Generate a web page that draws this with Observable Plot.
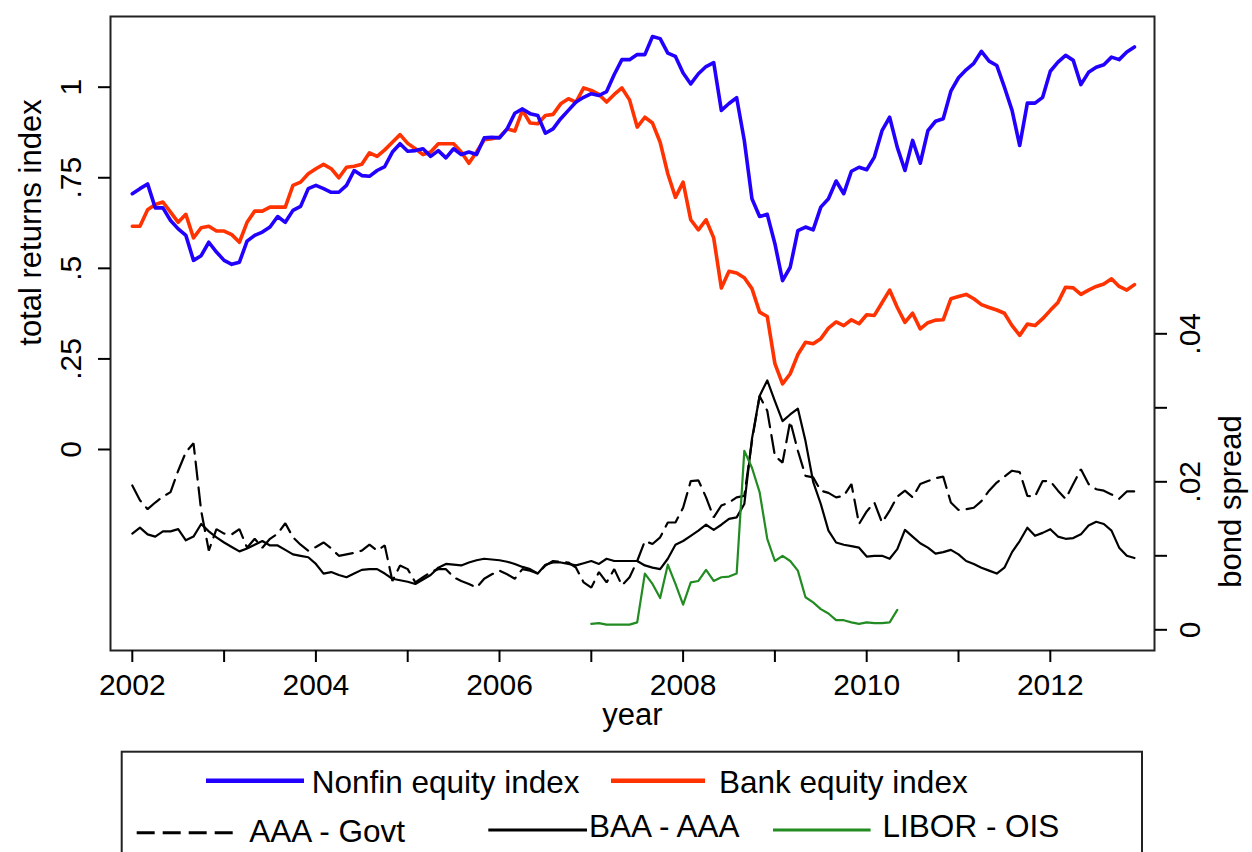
<!DOCTYPE html>
<html><head><meta charset="utf-8">
<script src="https://cdn.jsdelivr.net/npm/d3@7"></script>
<script src="https://cdn.jsdelivr.net/npm/@observablehq/plot@0.6"></script>
<style>
html,body{margin:0;padding:0;background:#fff;overflow:hidden;width:1252px;height:852px;}
#chart svg,#legend svg{display:block}
</style></head><body>
<div id="chart"></div>
<div id="legend"></div>
<script>
// ---- data (monthly, Jan 2002 .. Dec 2012) ----
const startYear = 2002;
const nonfin = [
 .706,.720,.733,.667,.667,.632,.609,.591,.522,.535,.572,.545,
 .522,.511,.517,.575,.591,.600,.614,.643,.627,.660,.671,.720,
 .729,.720,.710,.710,.729,.770,.756,.754,.770,.781,.821,.844,
 .823,.825,.830,.809,.825,.805,.830,.814,.821,.814,.860,.862,
 .860,.885,.928,.940,.927,.922,.873,.885,.913,.936,.959,.972,
 .982,.977,.988,1.035,1.076,1.076,1.090,1.090,1.140,1.134,1.094,1.085,
 1.039,1.009,1.037,1.057,1.068,.936,.955,.971,.853,.692,.643,.649,
 .568,.466,.503,.604,.614,.606,.669,.692,.741,.706,.768,.779,
 .772,.807,.880,.917,.834,.770,.853,.790,.880,.906,.913,.989,
 1.026,1.048,1.066,1.099,1.072,1.060,1.000,.936,.839,.956,.956,.972,
 1.044,1.069,1.088,1.074,1.007,1.041,1.055,1.062,1.083,1.076,1.097,1.111];
const bank = [
 .616,.616,.662,.676,.683,.655,.627,.649,.584,.612,.616,.603,
 .603,.593,.572,.627,.658,.658,.669,.669,.669,.729,.738,.761,
 .775,.787,.775,.750,.779,.782,.787,.819,.809,.827,.848,.869,
 .845,.830,.814,.821,.844,.844,.844,.821,.790,.821,.855,.858,
 .862,.885,.879,.936,.901,.899,.922,.925,.954,.968,.959,.998,
 .991,.980,.959,.980,.998,.965,.890,.917,.901,.848,.761,.696,
 .738,.634,.606,.634,.584,.446,.492,.487,.474,.444,.379,.367,
 .237,.181,.209,.262,.296,.292,.306,.335,.352,.342,.358,.347,
 .372,.370,.405,.440,.392,.351,.376,.333,.350,.357,.358,.416,
 .422,.428,.416,.400,.392,.385,.376,.342,.315,.346,.342,.361,
 .384,.406,.448,.446,.428,.440,.450,.457,.471,.450,.440,.455];
const aaaGovt = [
 .0195,.0175,.0163,.0172,.0180,.0186,.0215,.0240,.0252,.0161,.0107,.0136,
 .0130,.0129,.0136,.0111,.0123,.0111,.0123,.0130,.0144,.0125,.0115,.0107,
 .0112,.0118,.0110,.0100,.0102,.0104,.0107,.0115,.0107,.0114,.0066,.0087,
 .0082,.0064,.0071,.0078,.0082,.0082,.0071,.0066,.0062,.0057,.0069,.0075,
 .0080,.0075,.0069,.0082,.0080,.0076,.0087,.0093,.0092,.0091,.0084,.0064,
 .0057,.0078,.0064,.0082,.0060,.0071,.0093,.0120,.0116,.0125,.0145,.0145,
 .0165,.0201,.0202,.0179,.0152,.0168,.0172,.0179,.0181,.0255,.0316,.0296,
 .0235,.0226,.0282,.0242,.0208,.0206,.0188,.0185,.0179,.0181,.0197,.0143,
 .0160,.0172,.0145,.0161,.0180,.0188,.0179,.0197,.0201,.0205,.0207,.0172,
 .0162,.0163,.0165,.0174,.0188,.0199,.0207,.0215,.0213,.0181,.0180,.0201,
 .0201,.0188,.0177,.0197,.0217,.0197,.0190,.0188,.0183,.0177,.0187,.0187];
const baaAaa = [
 .0130,.0138,.0129,.0126,.0133,.0133,.0136,.0121,.0126,.0143,.0133,.0125,
 .0118,.0112,.0106,.0110,.0115,.0120,.0114,.0114,.0108,.0102,.0100,.0098,
 .0089,.0076,.0078,.0074,.0071,.0076,.0081,.0082,.0082,.0076,.0069,.0067,
 .0065,.0062,.0068,.0074,.0084,.0089,.0088,.0087,.0091,.0094,.0096,.0095,
 .0094,.0092,.0089,.0085,.0082,.0076,.0088,.0091,.0091,.0089,.0087,.0090,
 .0093,.0089,.0096,.0093,.0093,.0093,.0093,.0087,.0084,.0082,.0096,.0115,
 .0120,.0127,.0134,.0142,.0135,.0142,.0150,.0152,.0170,.0258,.0316,.0337,
 .0309,.0282,.0291,.0299,.0255,.0200,.0170,.0134,.0118,.0115,.0113,.0111,
 .0099,.0100,.0100,.0096,.0109,.0135,.0126,.0117,.0111,.0103,.0105,.0108,
 .0102,.0093,.0089,.0084,.0080,.0076,.0084,.0105,.0120,.0138,.0127,.0131,
 .0136,.0126,.0123,.0124,.0129,.0141,.0146,.0143,.0134,.0111,.0100,.0097];
const liborStartMonth = 60; // Jan 2007
const liborOis = [
 .0008,.0009,.0007,.0007,.0007,.0007,.0010,.0076,.0062,.0043,.0088,.0062,
 .0034,.0064,.0066,.0081,.0066,.0071,.0072,.0076,.0242,.0219,.0186,.0123,
 .0093,.0100,.0093,.0080,.0044,.0037,.0028,.0022,.0013,.0013,.0010,.0008,
 .0010,.0009,.0009,.0010,.0027];

const yearTicks = [2002,2003,2004,2005,2006,2007,2008,2009,2010,2011,2012];
const leftTicks = [0, .25, .5, .75, 1];
const leftTickLabels = ["0", ".25", ".5", ".75", "1"];
const rightTicks = [0, .01, .02, .03, .04];
const rightTickLabels = ["0", "", ".02", "", ".04"];
const legendLabels = ["Nonfin equity index", "Bank equity index", "AAA - Govt", "BAA - AAA", "LIBOR - OIS"];
const colors = {nonfin: "#2200ff", bank: "#ff3200", spread: "#000000", libor: "#228b22"};

// ---- helpers ----
const font = "'Liberation Sans', Arial, Helvetica, sans-serif";
const monthly = (arr, start = 0) => arr.map((v, i) => ({date: startYear + (start + i) / 12, v}));
// right (bond spread) axis expressed in left-axis units
const spreadOffset = -0.4977, spreadScale = 20.425;
const toLeft = s => spreadOffset + spreadScale * s;
const rightPos = rightTicks.map(toLeft);

const plot = Plot.plot({
  width: 1252, height: 745,
  marginLeft: 110, marginRight: 98, marginTop: 16, marginBottom: 95,
  x: {domain: [2001.7625, 2013.135], label: null},
  y: {domain: [-0.5548, 1.1951], label: null},
  style: {fontFamily: font, fontSize: "30px", color: "#000", background: "#fff", overflow: "visible"},
  marks: [
    Plot.line(monthly(aaaGovt), {x: "date", y: d => toLeft(d.v), stroke: colors.spread, strokeWidth: 2.2, strokeDasharray: "18,8", strokeLinejoin: "miter"}),
    Plot.line(monthly(baaAaa), {x: "date", y: d => toLeft(d.v), stroke: colors.spread, strokeWidth: 2.2}),
    Plot.line(monthly(liborOis, liborStartMonth), {x: "date", y: d => toLeft(d.v), stroke: colors.libor, strokeWidth: 2.2}),
    Plot.line(monthly(bank), {x: "date", y: "v", stroke: colors.bank, strokeWidth: 3.6}),
    Plot.line(monthly(nonfin), {x: "date", y: "v", stroke: colors.nonfin, strokeWidth: 3.6}),
    Plot.frame({stroke: "#222", strokeWidth: 2}),
    Plot.axisX(yearTicks, {tickSize: 12, tickPadding: 11, strokeWidth: 2, label: null,
      tickFormat: d => (d % 2 === 0 ? String(d) : "")}),
    Plot.axisY(leftTicks, {anchor: "left", tickSize: 12, tickPadding: 18, tickRotate: -90, strokeWidth: 2, label: null,
      tickFormat: d => leftTickLabels[leftTicks.indexOf(d)]}),
    Plot.axisY(rightPos, {anchor: "right", tickSize: 12, tickPadding: 12, tickRotate: -90, lineAnchor: "top", strokeWidth: 2, label: null,
      tickFormat: d => rightTickLabels[rightPos.indexOf(d)]}),
    Plot.text(["year"], {frameAnchor: "bottom", dy: 74, lineAnchor: "bottom", textAnchor: "middle", fontSize: 31}),
    Plot.text(["total returns index"], {frameAnchor: "left", dx: -70, dy: -111, rotate: -90, lineAnchor: "bottom", textAnchor: "middle", fontSize: 31}),
    Plot.text(["bond spread"], {frameAnchor: "right", dx: 64, dy: 168, rotate: -90, lineAnchor: "top", textAnchor: "middle", fontSize: 31})
  ]
});
document.getElementById("chart").appendChild(plot);

// ---- legend (below the plot) ----
const legendStyles = [
  {stroke: colors.nonfin, width: 4.5, dash: null},
  {stroke: colors.bank, width: 4.5, dash: null},
  {stroke: colors.spread, width: 3, dash: "18,8"},
  {stroke: colors.spread, width: 3, dash: null},
  {stroke: colors.libor, width: 3, dash: null}
];
const legendLayout = [
  {x1: 206, x2: 304, ly: 35.7, tx: 311.7, ty: 48},
  {x1: 611, x2: 705, ly: 35.7, tx: 719, ty: 48},
  {x1: 136.7, x2: 235, ly: 87.7, tx: 249.3, ty: 96.7},
  {x1: 488.3, x2: 587, ly: 85, tx: 589, ty: 92},
  {x1: 773, x2: 870.6, ly: 85, tx: 882.6, ty: 92}
];
const lsvg = d3.select("#legend").append("svg")
  .attr("width", 1252).attr("height", 107)
  .style("font-family", font);
lsvg.append("rect").attr("x", 121.7).attr("y", 6.7).attr("width", 1020.3).attr("height", 200)
  .attr("fill", "none").attr("stroke", "#222").attr("stroke-width", 2);
legendLabels.forEach((lab, i) => {
  const L = legendLayout[i], S = legendStyles[i];
  lsvg.append("line").attr("x1", L.x1).attr("x2", L.x2).attr("y1", L.ly).attr("y2", L.ly)
    .attr("stroke", S.stroke).attr("stroke-width", S.width)
    .attr("stroke-dasharray", S.dash);
  lsvg.append("text").attr("x", L.tx).attr("y", L.ty).attr("font-size", 31.5).attr("fill", "#000").text(lab);
});
</script>
</body></html>
